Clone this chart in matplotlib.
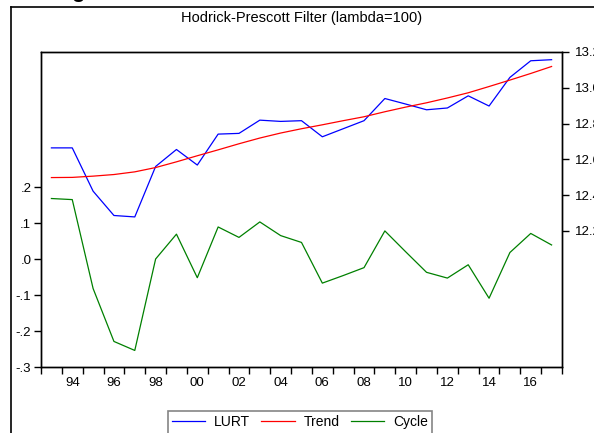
import matplotlib.pyplot as plt
from matplotlib.lines import Line2D
from matplotlib.ticker import FixedLocator, FixedFormatter

plt.rcParams['font.family'] = ['Liberation Sans', 'DejaVu Sans']

years = list(range(1993, 2018))
lurt = [12.664, 12.664, 12.422, 12.286, 12.278, 12.560, 12.655, 12.568, 12.741,
        12.745, 12.819, 12.812, 12.816, 12.726, 12.771, 12.816, 12.940, 12.909,
        12.877, 12.887, 12.955, 12.898, 13.058, 13.151, 13.157]
trend = [12.498, 12.499, 12.506, 12.515, 12.530, 12.554, 12.586, 12.620, 12.653,
         12.687, 12.719, 12.747, 12.771, 12.793, 12.816, 12.838, 12.866, 12.892,
         12.916, 12.943, 12.972, 13.007, 13.043, 13.080, 13.119]
cycle = [0.168, 0.165, -0.082, -0.229, -0.254, 0.000, 0.069, -0.052, 0.089,
         0.060, 0.103, 0.065, 0.046, -0.067, -0.046, -0.024, 0.078, 0.020,
         -0.037, -0.053, -0.016, -0.109, 0.018, 0.071, 0.039]

left_ticks = [-0.3, -0.2, -0.1, 0.0, 0.1, 0.2]
left_labels = ['-.3', '-.2', '-.1', '.0', '.1', '.2']
right_ticks = [12.2, 12.4, 12.6, 12.8, 13.0, 13.2]
right_labels = ['12.2', '12.4', '12.6', '12.8', '13.0', '13.2']
x_label_years = list(range(1994, 2017, 2))
x_labels = ['%02d' % (y % 100) for y in x_label_years]

fig = plt.figure(figsize=(5.94, 4.33), dpi=100)
W, H = 594, 433
ax = fig.add_axes([41 / W, 1 - 367 / H, (562 - 41) / W, (367 - 52) / H])
ax2 = ax.twinx()

# cycle on the left axis, series and trend on the right axis
ax.plot(years, cycle, color='#008000', lw=0.9, label='Cycle')
ax2.plot(years, lurt, color='#0000ff', lw=0.9, label='LURT')
ax2.plot(years, trend, color='#ff0000', lw=0.9, label='Trend')

ax.set_xlim(1992.5, 2017.5)
ax.set_ylim(-0.3, 0.575)
ax2.set_ylim(11.439, 13.2)

ax.yaxis.set_major_locator(FixedLocator(left_ticks))
ax.yaxis.set_major_formatter(FixedFormatter(left_labels))
ax2.yaxis.set_major_locator(FixedLocator(right_ticks))
ax2.yaxis.set_major_formatter(FixedFormatter(right_labels))

ax.xaxis.set_major_locator(FixedLocator(x_label_years))
ax.xaxis.set_major_formatter(FixedFormatter(x_labels))
ax.xaxis.set_minor_locator(FixedLocator([y + 0.5 for y in range(1992, 2018)]))
ax.tick_params(axis='x', which='major', length=0, pad=7, labelsize=9.5)
ax.tick_params(axis='x', which='minor', length=5, width=1, direction='out')
ax.tick_params(axis='y', length=5, width=1, direction='out', labelsize=9.5, pad=2)
ax2.tick_params(axis='y', length=5, width=1, direction='out', labelsize=9.5, pad=4)

for a in (ax, ax2):
    for s in a.spines.values():
        s.set_linewidth(1.0)

fig.text(302 / W, 1 - 18 / H, 'Hodrick-Prescott Filter (lambda=100)',
         ha='center', va='center', fontsize=10.5)

# outer frame, cut off by the image edges
fig.add_artist(Line2D([10.5 / W, 10.5 / W], [0, 1 - 7 / H], color='black', lw=1.2,
                      transform=fig.transFigure))
fig.add_artist(Line2D([10.5 / W, 1], [1 - 7 / H, 1 - 7 / H], color='black', lw=1.2,
                      transform=fig.transFigure))
fig.text(78 / W, 1 + 8 / H, 'g', ha='center', va='center', fontsize=16,
         fontweight='bold')

handles = ax2.get_lines() + ax.get_lines()
leg = fig.legend(handles, [h.get_label() for h in handles], loc='upper center',
                 bbox_to_anchor=(300 / W, 1 - 407 / H), ncol=3, frameon=True,
                 fancybox=False, edgecolor='#666666', fontsize=10,
                 handlelength=2.4, columnspacing=0.8, handletextpad=0.65,
                 borderpad=0.3, borderaxespad=0.3)
leg.get_frame().set_linewidth(1.2)

fig.savefig('out.png', dpi=100)
